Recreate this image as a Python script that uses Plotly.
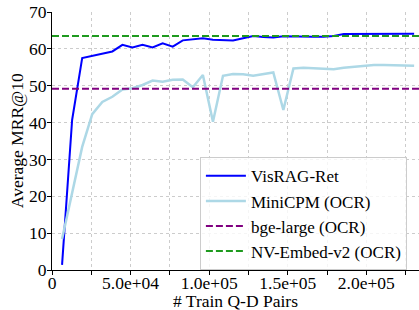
import plotly.graph_objects as go

steps = list(range(1, 37))
pairs = [6400 * k for k in steps]

visrag_ret = [1.4, 40.7, 57.5, 58.1, 58.6, 59.3, 61.1, 60.4, 61.1, 60.4,
              61.5, 60.6, 62.3, 62.6, 62.9, 62.5, 62.3, 62.3, 62.9, 63.5,
              63.2, 63.1, 63.4, 63.3, 63.4, 63.3, 63.3, 63.5, 64.0, 64.0,
              64.1, 64.0, 64.0, 64.1, 64.1, 64.1]
minicpm_ocr = [8.4, 20.8, 33.4, 42.3, 45.6, 47.0, 49.0, 49.3, 50.2, 51.4,
               51.1, 51.6, 51.7, 49.6, 52.9, 40.2, 52.7, 53.2, 53.1, 52.7,
               53.1, 53.6, 43.4, 54.7, 54.9, 54.7, 54.5, 54.5, 54.9, 55.2,
               55.4, 55.6, 55.6, 55.5, 55.5, 55.4]
bge_large_ocr = 49.2
nv_embed_v2_ocr = 63.5

x_tickvals = [0, 25000, 50000, 75000, 100000, 125000, 150000, 175000, 200000, 225000]
x_ticktext = ["0", "", "5.0e+04", "", "1.0e+05", "", "1.5e+05", "", "2.0e+05", ""]
y_tickvals = [0, 10, 20, 30, 40, 50, 60, 70]

FONT = "Liberation Serif"

fig = go.Figure()
fig.add_trace(go.Scatter(x=pairs, y=visrag_ret, mode="lines", name="VisRAG-Ret",
                         line=dict(color="#0000ff", width=2)))
fig.add_trace(go.Scatter(x=pairs, y=minicpm_ocr, mode="lines", name="MiniCPM (OCR)",
                         line=dict(color="#add8e6", width=2.5)))
fig.add_trace(go.Scatter(x=[0, 240000], y=[bge_large_ocr] * 2, mode="lines",
                         name="bge-large (OCR)",
                         line=dict(color="#800080", width=2, dash="7px,3px")))
fig.add_trace(go.Scatter(x=[0, 240000], y=[nv_embed_v2_ocr] * 2, mode="lines",
                         name="NV-Embed-v2 (OCR)",
                         line=dict(color="#1f9a1f", width=2, dash="7px,3px")))

fig.update_layout(
    width=419, height=310,
    margin=dict(l=52, r=0, t=12, b=40),
    paper_bgcolor="white", plot_bgcolor="white",
    font=dict(family=FONT, size=17, color="black"),
    showlegend=True,
    legend=dict(x=0.403, y=0.437, xanchor="left", yanchor="top",
                itemwidth=40,
                bgcolor="rgba(255,255,255,0.8)", bordercolor="#cccccc", borderwidth=1,
                font=dict(family=FONT, size=17)),
    xaxis=dict(range=[0, 233500], tickmode="array", tickvals=x_tickvals, ticktext=x_ticktext,
               showline=True, linecolor="black", linewidth=1.2,
               ticks="outside", ticklen=4, tickcolor="black",
               showgrid=True, gridcolor="#cccccc", griddash="dot", gridwidth=1,
               zeroline=False, ticklabelstandoff=-7,
               tickfont=dict(size=17.5)),
    yaxis=dict(range=[0, 70], tickmode="array", tickvals=y_tickvals,
               showline=True, linecolor="black", linewidth=1.2,
               ticks="outside", ticklen=4, tickcolor="black",
               showgrid=True, gridcolor="#cccccc", griddash="dot", gridwidth=1,
               zeroline=False, ticklabelstandoff=-3,
               tickfont=dict(size=17.5)),
    annotations=[
        dict(text="# Train Q-D Pairs", xref="paper", yref="paper", x=0.5, y=-0.119,
             xanchor="center", yanchor="middle", showarrow=False,
             font=dict(family=FONT, size=17.5)),
        dict(text="Average MRR@10", xref="paper", yref="paper", x=-0.095, y=0.5,
             xanchor="center", yanchor="middle", showarrow=False, textangle=-90,
             font=dict(family=FONT, size=17.5)),
    ],
)

fig.write_html("out.html", config={"displayModeBar": False},
               post_script="document.body.style.margin='0';document.body.style.padding='0';"
                           "document.body.style.overflow='hidden';")
